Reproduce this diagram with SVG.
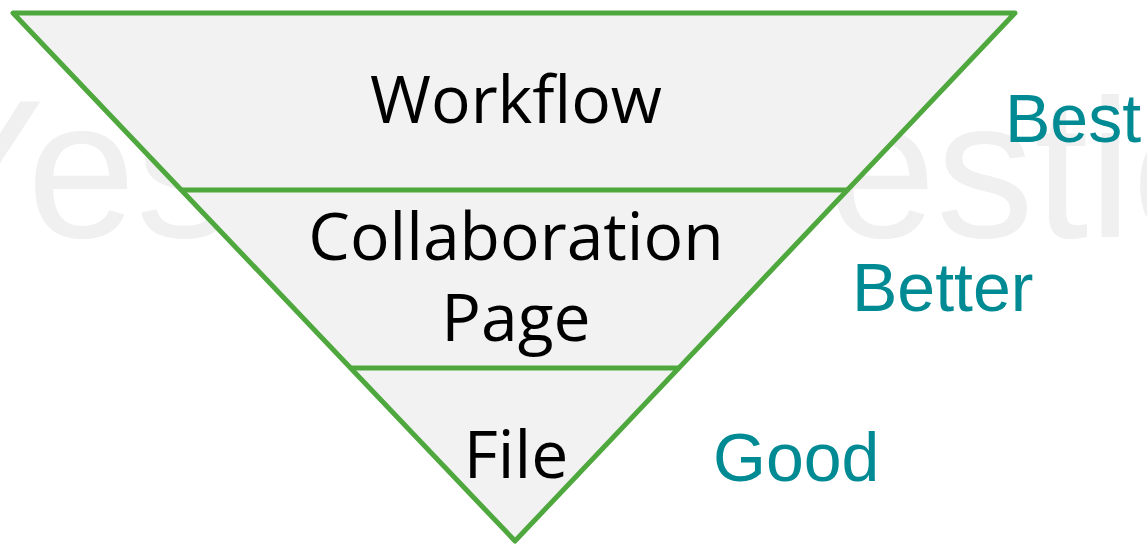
<svg xmlns="http://www.w3.org/2000/svg" width="1147" height="544" viewBox="0 0 1147 544">
<style>
.wm{font-family:"Liberation Sans",Arial,sans-serif;font-size:196px;fill:#f0f0f0}
.lvl{fill:#f2f2f2;stroke:none}
.edge{fill:none;stroke:#4ea83e;stroke-width:5;stroke-linecap:round;stroke-linejoin:round}
.lbl{font-family:"Open Sans",sans-serif;font-size:66px;fill:#000;text-anchor:middle}
.rank{font-family:"Liberation Sans",Arial,sans-serif;font-size:68px;fill:#008a93}
</style>
<rect width="1147" height="544" fill="#fff"/>
<g id="watermark">
<text class="wm" x="-86" y="237">Yes</text>
<text class="wm" x="827" y="237">estio</text>
</g>
<g id="funnel">
<polygon class="lvl" points="13,13 1015,13 515,541"/>
</g>
<g id="connectors">
<polygon class="edge" points="13,13 1015,13 515,541"/>
<line class="edge" x1="182" y1="190" x2="847" y2="190"/>
<line class="edge" x1="351" y1="368" x2="678" y2="368"/>
</g>
<g id="level-workflow"><text class="lbl" x="516" y="123">Workflow</text></g>
<g id="level-collaboration"><text class="lbl" x="516" y="260">Collaboration</text><text class="lbl" x="516" y="341">Page</text></g>
<g id="level-file"><text class="lbl" x="516" y="478">File</text></g>
<g id="rank-best"><text class="rank" x="1005" y="142">Best</text></g>
<g id="rank-better"><text class="rank" x="852" y="311">Better</text></g>
<g id="rank-good"><text class="rank" x="713" y="481">Good</text></g>
</svg>
